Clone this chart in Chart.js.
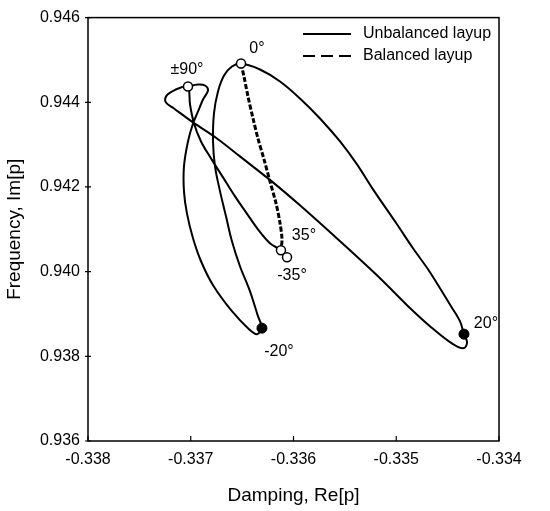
<!DOCTYPE html>
<html>
<head>
<meta charset="utf-8">
<script src="https://cdn.jsdelivr.net/npm/chart.js@4.4.1/dist/chart.umd.min.js"></script>
<style>
  html, body { margin: 0; padding: 0; background: #fff; }
  #wrap { width: 550px; height: 511px; }
</style>
</head>
<body>
<div id="wrap"><canvas id="chart"></canvas></div>
<script>
const xTicks = [-0.338, -0.337, -0.336, -0.335, -0.334];
const yTicks = [0.936, 0.938, 0.940, 0.942, 0.944, 0.946];

// unbalanced layup: ±90 -> -20 -> 0 -> 20 -> ±90 -> 35/-35
const unbalancedRe = [
    -0.337027, -0.336929, -0.336861, -0.336832, -0.336881, -0.336929, -0.336978, -0.337027, -0.337066,
    -0.337066, -0.337037, -0.336978, -0.336900, -0.336783, -0.336599, -0.336433, -0.336355, -0.336307,
    -0.336346, -0.336424, -0.336521, -0.336599, -0.336657, -0.336715, -0.336764, -0.336783, -0.336774,
    -0.336735, -0.336676, -0.336599, -0.336511,
    -0.336326, -0.336131, -0.335937, -0.335742, -0.335547, -0.335382, -0.335226, -0.334993, -0.334837,
    -0.334691, -0.334574, -0.334467, -0.334380, -0.334341, -0.334311, -0.334341, -0.334448,
    -0.334672, -0.334895, -0.335158, -0.335547, -0.335937, -0.336200, -0.336521, -0.336745, -0.336978,
    -0.337163, -0.337241, -0.337241, -0.337182, -0.337095, -0.337027,
    -0.337007, -0.336968, -0.336900, -0.336803, -0.336686, -0.336569, -0.336462, -0.336346, -0.336229,
    -0.336122, -0.336063
];
const unbalancedIm = [
    0.944373, 0.944420, 0.944396, 0.944278, 0.944066, 0.943783, 0.943500, 0.943075, 0.942486,
    0.941896, 0.941377, 0.940788, 0.940245, 0.939679, 0.939066, 0.938642, 0.938524, 0.938665,
    0.938948, 0.939538, 0.940127, 0.940717, 0.941307, 0.941896, 0.942486, 0.943075, 0.943736,
    0.944255, 0.944632, 0.944844, 0.944915,
    0.944774, 0.944491, 0.944090, 0.943618, 0.943075, 0.942533, 0.941943, 0.941118, 0.940552,
    0.940057, 0.939608, 0.939184, 0.938830, 0.938524, 0.938335, 0.938194, 0.938288,
    0.938712, 0.939208, 0.939844, 0.940717, 0.941566, 0.942108, 0.942722, 0.943146, 0.943524,
    0.943854, 0.943995, 0.944137, 0.944255, 0.944349, 0.944373,
    0.943948, 0.943500, 0.943075, 0.942675, 0.942226, 0.941778, 0.941401, 0.941000, 0.940670,
    0.940505, 0.940340
];

// balanced layup: 0 -> 35
const balancedRe = [-0.336511, -0.336482, -0.336443, -0.336394, -0.336346, -0.336287, -0.336229, -0.336170, -0.336131, -0.336112, -0.336122];
const balancedIm = [0.944915, 0.944608, 0.944137, 0.943618, 0.943146, 0.942651, 0.942132, 0.941613, 0.941142, 0.940764, 0.940505];

const openAngles = ['0°', '±90°', '35°', '-35°'];
const openRe = [-0.336511, -0.337027, -0.336122, -0.336063];
const openIm = [0.944915, 0.944373, 0.940505, 0.940340];

const filledAngles = ['20°', '-20°'];
const filledRe = [-0.334341, -0.336307];
const filledIm = [0.938524, 0.938665];

const FONT = "'Liberation Sans', Arial, Helvetica, sans-serif";
const INK = '#000';

const toXY = (xs, ys) => xs.map((x, i) => ({ x, y: ys[i] }));

// where each angle label sits relative to its marker (px)
const labelOffset = {
    '0°': [16, -15], '±90°': [-1, -17], '35°': [23, -15],
    '-35°': [5, 18], '20°': [22, -11], '-20°': [17, 23]
};

const decorations = {
    id: 'decorations',
    afterDraw(chart) {
        const { ctx, chartArea: a, scales: { x, y } } = chart;
        ctx.save();
        ctx.strokeStyle = INK;
        ctx.lineWidth = 1.5;
        ctx.strokeRect(a.left, a.top, a.right - a.left, a.bottom - a.top);

        // small ticks
        ctx.lineWidth = 1.2;
        ctx.beginPath();
        xTicks.forEach(v => {
            const px = x.getPixelForValue(v);
            ctx.moveTo(px, a.bottom);
            ctx.lineTo(px, a.bottom - 5);
        });
        yTicks.forEach(v => {
            const py = y.getPixelForValue(v);
            ctx.moveTo(a.left - 3, py);
            ctx.lineTo(a.left + 3, py);
        });
        ctx.stroke();

        // angle labels
        ctx.fillStyle = INK;
        ctx.font = `16px ${FONT}`;
        ctx.textAlign = 'center';
        ctx.textBaseline = 'middle';
        const put = (texts, xs, ys) => texts.forEach((t, i) => {
            const [dx, dy] = labelOffset[t];
            ctx.fillText(t, x.getPixelForValue(xs[i]) + dx, y.getPixelForValue(ys[i]) + dy);
        });
        put(openAngles, openRe, openIm);
        put(filledAngles, filledRe, filledIm);

        // legend
        ctx.lineWidth = 2;
        ctx.beginPath();
        ctx.moveTo(303, 34);
        ctx.lineTo(351, 34);
        ctx.stroke();
        ctx.setLineDash([12, 6]);
        ctx.beginPath();
        ctx.moveTo(303, 56);
        ctx.lineTo(351, 56);
        ctx.stroke();
        ctx.setLineDash([]);
        ctx.textAlign = 'left';
        ctx.fillText('Unbalanced layup', 363, 34);
        ctx.fillText('Balanced layup', 363, 56);
        ctx.restore();
    }
};

new Chart(document.getElementById('chart'), {
    type: 'scatter',
    data: {
        datasets: [
            {
                label: 'open',
                data: toXY(openRe, openIm),
                pointRadius: 4.5,
                pointBackgroundColor: '#fff',
                pointBorderColor: INK,
                pointBorderWidth: 1.5,
                showLine: false
            },
            {
                label: 'filled',
                data: toXY(filledRe, filledIm),
                pointRadius: 5,
                pointBackgroundColor: INK,
                pointBorderColor: INK,
                pointBorderWidth: 1,
                showLine: false
            },
            {
                label: 'Balanced layup',
                data: toXY(balancedRe, balancedIm),
                showLine: true,
                borderColor: INK,
                borderWidth: 3,
                borderDash: [5, 2],
                pointRadius: 0,
                tension: 0.3
            },
            {
                label: 'Unbalanced layup',
                data: toXY(unbalancedRe, unbalancedIm),
                showLine: true,
                borderColor: INK,
                borderWidth: 2,
                pointRadius: 0,
                tension: 0.35
            }
        ]
    },
    options: {
        responsive: true,
        maintainAspectRatio: false,
        animation: false,
        layout: { padding: { top: 15, right: 51, bottom: 4, left: 0 } },
        plugins: { legend: { display: false }, tooltip: { enabled: false } },
        scales: {
            x: {
                type: 'linear',
                min: -0.338,
                max: -0.334,
                afterBuildTicks: s => { s.ticks = xTicks.map(v => ({ value: v })); },
                afterFit: s => { s.height = 66; },
                ticks: {
                    callback: v => v.toFixed(3),
                    padding: 9,
                    maxRotation: 0,
                    autoSkip: false,
                    color: INK,
                    font: { family: FONT, size: 16 }
                },
                grid: { display: false, drawTicks: false },
                border: { display: false },
                title: {
                    display: true,
                    text: 'Damping, Re[p]',
                    color: INK,
                    font: { family: FONT, size: 19 },
                    padding: { top: 0, bottom: 0 }
                }
            },
            y: {
                type: 'linear',
                min: 0.936,
                max: 0.946,
                afterBuildTicks: s => { s.ticks = yTicks.map(v => ({ value: v })); },
                afterFit: s => { s.width = 88; },
                ticks: {
                    callback: v => v.toFixed(3),
                    padding: 8,
                    autoSkip: false,
                    color: INK,
                    font: { family: FONT, size: 16 }
                },
                grid: { display: false, drawTicks: false },
                border: { display: false },
                title: {
                    display: true,
                    text: 'Frequency, Im[p]',
                    color: INK,
                    font: { family: FONT, size: 19 },
                    padding: { top: 3, bottom: 0 }
                }
            }
        }
    },
    plugins: [decorations]
});
</script>
</body>
</html>
